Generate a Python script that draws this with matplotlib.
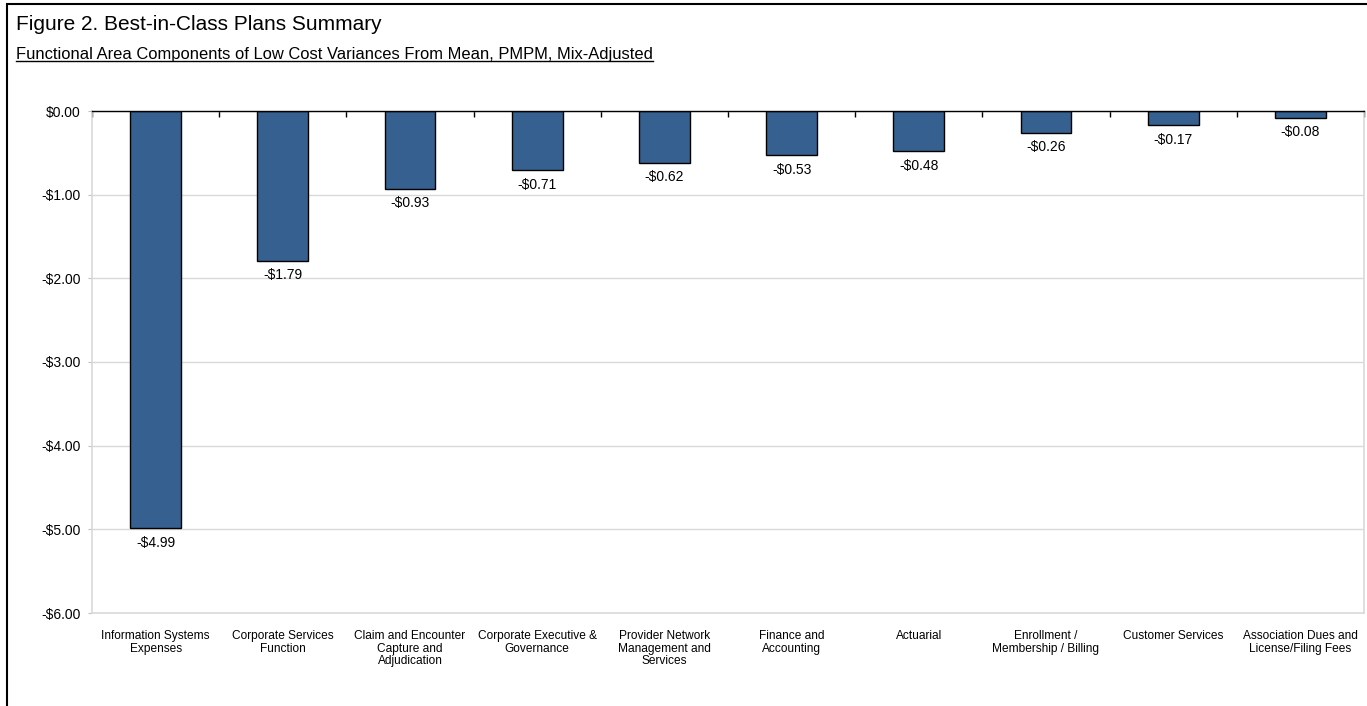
import matplotlib
matplotlib.use("Agg")
import matplotlib.pyplot as plt
from matplotlib.patches import Rectangle
import numpy as np

categories = [
    "Information Systems\nExpenses",
    "Corporate Services\nFunction",
    "Claim and Encounter\nCapture and\nAdjudication",
    "Corporate Executive &\nGovernance",
    "Provider Network\nManagement and\nServices",
    "Finance and\nAccounting",
    "Actuarial",
    "Enrollment /\nMembership / Billing",
    "Customer Services",
    "Association Dues and\nLicense/Filing Fees",
]
values = [-4.99, -1.79, -0.93, -0.71, -0.62, -0.53, -0.48, -0.26, -0.17, -0.08]
yticks = [0, -1, -2, -3, -4, -5, -6]

plt.rcParams['font.family'] = ['Liberation Sans', 'DejaVu Sans']

W, H = 1367, 706
fig = plt.figure(figsize=(W / 100, H / 100), dpi=100)
ax = fig.add_axes([92 / W, 1 - 613 / H, (1364 - 92) / W, (613 - 111) / H])

x = np.arange(len(categories))
ax.bar(x, values, width=0.40, color='#36608F', edgecolor='black', linewidth=1.0, zorder=3)

for xi, v in zip(x, values):
    ax.annotate(f"-${abs(v):.2f}", (xi, v), xytext=(0, -10.5), textcoords='offset points',
                ha='center', va='center', fontsize=10)

ax.set_xlim(-0.5, len(categories) - 0.5)
ax.set_ylim(-6, 0)
ax.set_yticks(yticks)
ax.set_yticklabels([f"${v:.2f}" if v >= 0 else f"-${abs(v):.2f}" for v in yticks], fontsize=10)
ax.yaxis.grid(True, color='#D9D9D9', linewidth=1.0, zorder=0)
ax.tick_params(axis='y', length=3, color='#BFBFBF', pad=5)

ax.set_xticks(x)
ax.set_xticklabels(categories, fontsize=8.6, linespacing=1.1)
ax.tick_params(axis='x', length=0, pad=12)

for s in ['left', 'right', 'bottom']:
    ax.spines[s].set_color('#D9D9D9')
    ax.spines[s].set_linewidth(1.2)
ax.spines['top'].set_color('black')
ax.spines['top'].set_linewidth(1.0)
ax.spines['top'].set_zorder(4)

sec = ax.secondary_xaxis('top')
sec.set_xticks(np.arange(-0.5, len(categories), 1.0))
sec.set_xticklabels([])
sec.tick_params(direction='in', length=4, width=1, color='black')
sec.spines['top'].set_visible(False)

fig.text(16 / W, 1 - 30 / H, "Figure 2. Best-in-Class Plans Summary", fontsize=15,
         ha='left', va='baseline')
sub = fig.text(16 / W, 1 - 58.5 / H,
               "Functional Area Components of Low Cost Variances From Mean, PMPM, Mix-Adjusted",
               fontsize=11.9, ha='left', va='baseline')
fig.canvas.draw()
bb = sub.get_window_extent(renderer=fig.canvas.get_renderer())
fig.add_artist(plt.Line2D([bb.x0 / W, bb.x1 / W], [1 - 61 / H, 1 - 61 / H],
                          color='black', linewidth=1.0))

fig.add_artist(Rectangle((7 / W, -0.05), (W + 20) / W, 1 - 4 / H + 0.05, transform=fig.transFigure,
                         fill=False, edgecolor='black', linewidth=1.5))

fig.savefig("out.png", dpi=100)
